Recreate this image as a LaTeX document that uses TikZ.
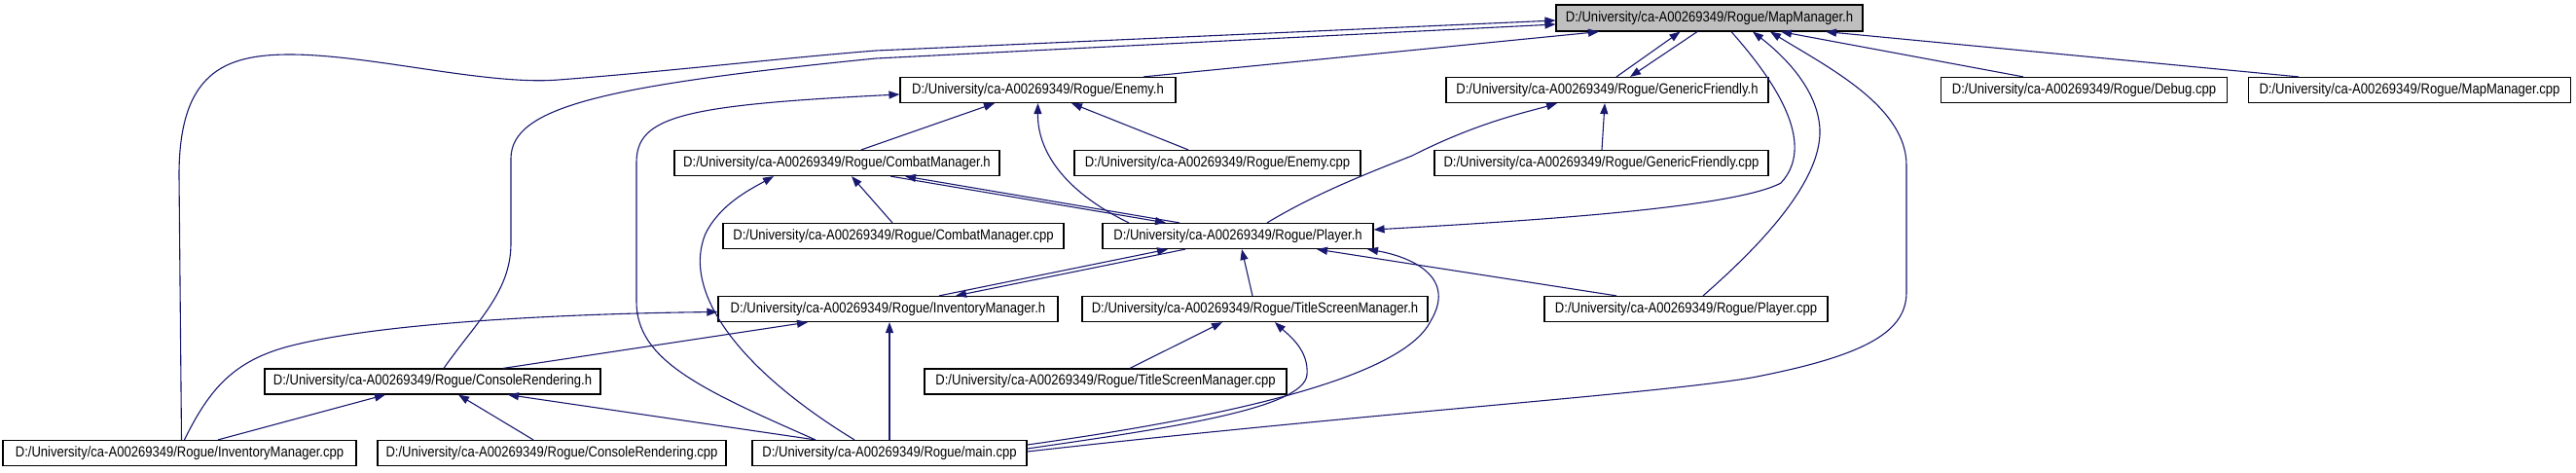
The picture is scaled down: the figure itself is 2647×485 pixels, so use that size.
\documentclass[tikz,border=0pt]{standalone}
\usepackage{fontspec}
\usetikzlibrary{arrows.meta}
\newfontfamily\nodefont{Liberation Sans}[FakeStretch=0.87]
\definecolor{edgeblue}{HTML}{191970}
\definecolor{rootgray}{HTML}{BFBFBF}
\tikzset{
  box/.style={draw=black, fill=white, line width=1.2pt, minimum height=26pt, inner sep=0pt,
    font=\nodefont\fontsize{15}{18}\selectfont},
  edge/.style={draw=edgeblue, line width=1.1pt, -{Triangle[length=11pt,width=8pt]}},
}
\begin{document}
\begin{tikzpicture}[x=1pt,y=-1pt]
\useasboundingbox (0,0) rectangle (2647,485);
% nodes
\node[box, fill=rootgray, minimum width=315pt, minimum height=27pt] (map_h) at (1756.5,18.5) {D:/University/ca-A00269349/Rogue/MapManager.h};
\node[box, minimum width=283pt] (enemy_h) at (1066.5,92.5) {D:/University/ca-A00269349/Rogue/Enemy.h};
\node[box, minimum width=331pt] (gf_h) at (1651.5,92.5) {D:/University/ca-A00269349/Rogue/GenericFriendly.h};
\node[box, minimum width=294pt] (debug) at (2141.5,92.5) {D:/University/ca-A00269349/Rogue/Debug.cpp};
\node[box, minimum width=331pt] (map_cpp) at (2476,92.5) {D:/University/ca-A00269349/Rogue/MapManager.cpp};
\node[box, minimum width=334pt] (combat_h) at (860,167.5) {D:/University/ca-A00269349/Rogue/CombatManager.h};
\node[box, minimum width=294pt] (enemy_cpp) at (1251,167.5) {D:/University/ca-A00269349/Rogue/Enemy.cpp};
\node[box, minimum width=343pt] (gf_cpp) at (1645.5,167.5) {D:/University/ca-A00269349/Rogue/GenericFriendly.cpp};
\node[box, minimum width=350pt] (combat_cpp) at (918,242.5) {D:/University/ca-A00269349/Rogue/CombatManager.cpp};
\node[box, minimum width=278pt] (player_h) at (1272,242.5) {D:/University/ca-A00269349/Rogue/Player.h};
\node[box, minimum width=349pt] (inv_h) at (912.5,317.5) {D:/University/ca-A00269349/Rogue/InventoryManager.h};
\node[box, minimum width=355pt] (title_h) at (1289.5,317.5) {D:/University/ca-A00269349/Rogue/TitleScreenManager.h};
\node[box, minimum width=291pt] (player_cpp) at (1732.5,317.5) {D:/University/ca-A00269349/Rogue/Player.cpp};
\node[box, minimum width=372pt] (title_cpp) at (1136,392) {D:/University/ca-A00269349/Rogue/TitleScreenManager.cpp};
\node[box, minimum width=345pt] (cons_h) at (444.5,392) {D:/University/ca-A00269349/Rogue/ConsoleRendering.h};
\node[box, minimum width=363pt] (inv_cpp) at (184.5,465.5) {D:/University/ca-A00269349/Rogue/InventoryManager.cpp};
\node[box, minimum width=358pt] (cons_cpp) at (567,465.5) {D:/University/ca-A00269349/Rogue/ConsoleRendering.cpp};
\node[box, minimum width=282pt] (main_cpp) at (914,465.5) {D:/University/ca-A00269349/Rogue/main.cpp};
% edges
\draw[edge] ([xshift=2pt]inv_cpp.north) -- (184,180) .. controls (184,75) and (230,56) .. (298,56) .. controls (380,56) and (500,88) .. (574,82) .. controls (680,74) and (800,60) .. (900,52) -- ([yshift=-2.5pt]map_h.west);
\draw[edge] ([xshift=11.5pt]cons_h.north) .. controls (490,330) and (525,300) .. (525,250) -- (525,163) .. controls (525,110) and (620,88) .. (900,60) -- ([yshift=-6.5pt]map_h.west);
\draw[edge] ([xshift=-76pt]main_cpp.north) .. controls (720,400) and (654,370) .. (654,310) -- (654,167) .. controls (654,120) and (700,108) .. ([yshift=-4.5pt]enemy_h.west);
\draw[edge] ([xshift=108.5pt]enemy_h.north) -- ([xshift=-113.5pt]map_h.south);
\draw[edge] ([xshift=9.5pt]gf_h.north) -- ([xshift=-30pt]map_h.south);
\draw[edge] ([xshift=-12.5pt]map_h.south) -- ([xshift=23.5pt]gf_h.north);
\draw[edge] ([xshift=22.5pt]map_h.south) .. controls (1830,90) and (1865,150) .. (1830,188) .. controls (1780,215) and (1550,228) .. ([yshift=6.5pt]player_h.east);
\draw[edge] ([xshift=17.5pt]player_cpp.north) .. controls (1800,260) and (1872,190) .. (1870,133) .. controls (1868,90) and (1830,55) .. ([xshift=44.5pt]map_h.south);
\draw[edge] ([yshift=1.5pt]main_cpp.east) .. controls (1400,425) and (1700,405) .. (1800,388) .. controls (1920,365) and (1959,340) .. (1959,300) -- (1959,170) .. controls (1959,110) and (1880,70) .. ([xshift=62.5pt]map_h.south);
\draw[edge] ([xshift=-62.5pt]debug.north) -- ([xshift=73.5pt]map_h.south);
\draw[edge] ([xshift=-114pt]map_cpp.north) -- ([xshift=119.5pt]map_h.south);
\draw[edge] ([xshift=25pt]combat_h.north) -- ([xshift=-44.5pt]enemy_h.south);
\draw[edge] ([xshift=-112pt]player_h.north) .. controls (1100,200) and (1066,160) .. (enemy_h.south);
\draw[edge] ([xshift=-30pt]enemy_cpp.north) -- ([xshift=34.5pt]enemy_h.south);
\draw[edge] ([xshift=-1pt]combat_cpp.north) -- ([xshift=15pt]combat_h.south);
\draw[edge] ([xshift=-36pt]main_cpp.north) .. controls (760,380) and (700,300) .. (725,240) .. controls (740,210) and (770,195) .. ([xshift=-65pt]combat_h.south);
\draw[edge] ([xshift=55pt]combat_h.south) -- ([xshift=-74pt]player_h.north);
\draw[edge] ([xshift=-60pt]player_h.north) -- ([xshift=70pt]combat_h.south);
\draw[edge] ([xshift=52.5pt]inv_h.north) -- ([xshift=-72pt]player_h.south);
\draw[edge] ([xshift=-54pt]player_h.south) -- ([xshift=69.5pt]inv_h.north);
\draw[edge] ([xshift=-2.5pt]title_h.north) -- ([xshift=4pt]player_h.south);
\draw[edge] ([xshift=-71.5pt]player_cpp.north) -- ([xshift=81pt]player_h.south);
\draw[edge] ([yshift=8.5pt]main_cpp.east) .. controls (1250,430) and (1440,390) .. (1470,330) .. controls (1500,280) and (1440,262) .. ([xshift=133pt]player_h.south);
\draw[edge] ([yshift=4.5pt]main_cpp.east) .. controls (1200,440) and (1340,420) .. (1343,385) .. controls (1345,360) and (1325,345) .. ([xshift=20.5pt]title_h.south);
\draw[edge] ([xshift=25pt]title_cpp.north) -- ([xshift=-33.5pt]title_h.south);
\draw[edge] (main_cpp.north) -- ([xshift=1.5pt]inv_h.south);
\draw[edge] ([xshift=5pt]inv_cpp.north) .. controls (215,400) and (240,370) .. (300,355) .. controls (400,330) and (600,322) .. ([yshift=-3pt]inv_h.west);
\draw[edge] ([xshift=72.5pt]cons_h.north) -- ([xshift=-82.5pt]inv_h.south);
\draw[edge] ([xshift=39.5pt]inv_cpp.north) -- ([xshift=-48.5pt]cons_h.south);
\draw[edge] ([xshift=-19pt]cons_cpp.north) -- ([xshift=26.5pt]cons_h.south);
\draw[edge] ([xshift=-76pt]main_cpp.north) -- ([xshift=77.5pt]cons_h.south);
\draw[edge] ([xshift=0.5pt]gf_cpp.north) -- ([xshift=-2.5pt]gf_h.south);
\draw[edge] ([xshift=30pt]player_h.north) .. controls (1350,200) and (1400,180) .. (1451,160) .. controls (1520,125) and (1570,115) .. ([xshift=-51.5pt]gf_h.south);
\end{tikzpicture}
\end{document}
